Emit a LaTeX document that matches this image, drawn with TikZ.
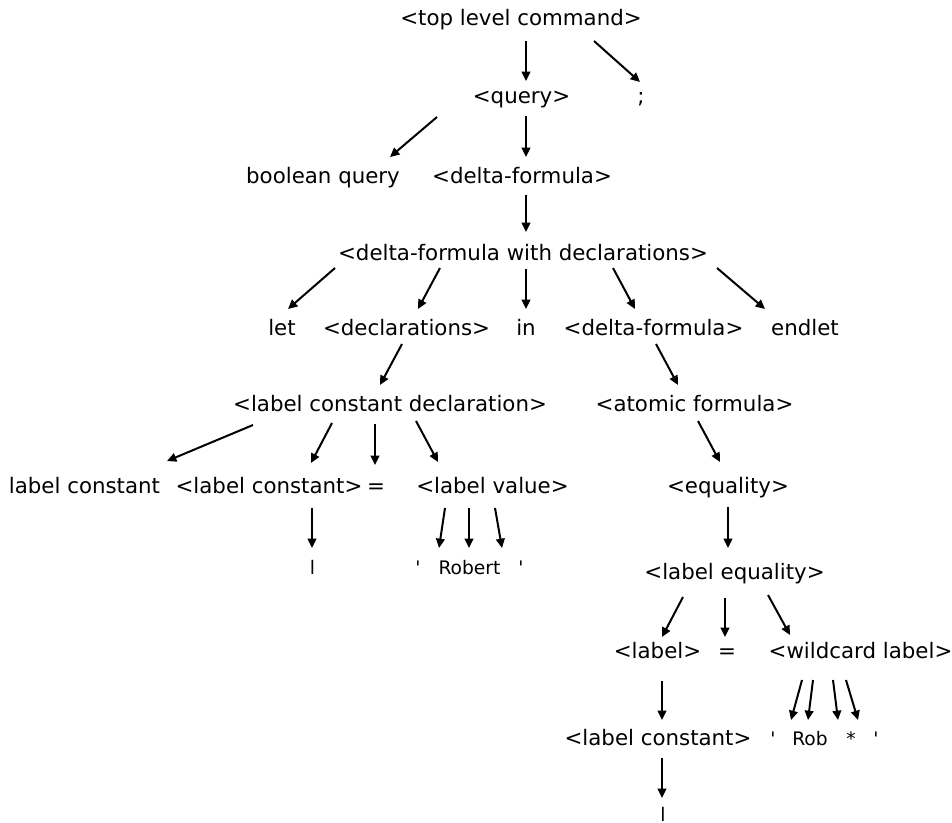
\documentclass[tikz,border=0pt]{standalone}
\usepackage{fontspec}
\setmainfont{DejaVu Sans}
\newfontfamily\termfont{DejaVu Sans}
\usetikzlibrary{calc,arrows.meta}
\tikzset{
  txt/.style={anchor=base, inner sep=0pt, font=\fontsize{16}{19}\selectfont},
  term/.style={anchor=base, inner sep=0pt, font=\termfont\fontsize{14}{17}\selectfont},
  arr/.style={-{Triangle[length=7pt,width=6.5pt]}, line width=1.5pt}
}
\begin{document}
\begin{tikzpicture}[x=0.75pt,y=-0.75pt]
\useasboundingbox (0,0) rectangle (952,823);
% nodes
\node[txt] (tlc) at (521,26) {<top level command>};
\node[txt] (query) at (521.5,104) {<query>};
\node[txt] (semi) at (641,104) {;};
\node[txt] (boolq) at (323,184) {boolean query};
\node[txt] (df1) at (522,184) {<delta-formula>};
\node[txt] (dfwd) at (523,261) {<delta-formula with declarations>};
\node[txt] (let) at (282,335) {let};
\node[txt] (decls) at (406.5,335) {<declarations>};
\node[txt] (in) at (526,335) {in};
\node[txt] (df2) at (653.5,335) {<delta-formula>};
\node[txt] (endlet) at (805,335) {endlet};
\node[txt] (lcd) at (390,411) {<label constant declaration>};
\node[txt] (atomic) at (694.5,411) {<atomic formula>};
\node[txt] (lconst) at (84.5,493) {label constant};
\node[txt] (lc1) at (269,493) {<label constant>};
\node[txt] (eq1) at (376,493) {=};
\node[txt] (lv) at (492.5,493) {<label value>};
\node[txt] (equality) at (728,493) {<equality>};
\node[term] (l1) at (312.5,574) {l};
\node[term] (q1) at (418,574) {'};
\node[term] (robert) at (469.5,574) {Robert};
\node[term] (q2) at (521,574) {'};
\node[txt] (leq) at (734.5,579) {<label equality>};
\node[txt] (label) at (657.5,658) {<label>};
\node[txt] (eq2) at (727,658) {=};
\node[txt] (wl) at (860.5,658) {<wildcard label>};
\node[txt] (lc2) at (658,745) {<label constant>};
\node[term] (q3) at (773,745) {'};
\node[term] (rob) at (810,745) {Rob};
\node[term] (star) at (851,745) {*};
\node[term] (q4) at (876,745) {'};
\node[term] (l2) at (663,821.5) {l};
% connectors
\draw[arr] ($(tlc.base)+(5,15)$) -- ($(query.base)+(4.5,-23)$);
\draw[arr] ($(tlc.base)+(73,15)$) -- ($(semi.base)+(-1,-22)$);
\draw[arr] ($(query.base)+(-84.5,13)$) -- ($(boolq.base)+(67,-27)$);
\draw[arr] ($(query.base)+(4.5,12)$) -- ($(df1.base)+(4,-27)$);
\draw[arr] ($(df1.base)+(4,11)$) -- ($(dfwd.base)+(3,-29)$);
\draw[arr] ($(dfwd.base)+(-188,7)$) -- ($(let.base)+(6,-26)$);
\draw[arr] ($(dfwd.base)+(-83,7)$) -- ($(decls.base)+(11.5,-26)$);
\draw[arr] ($(dfwd.base)+(3,8)$) -- ($(in.base)+(0,-26)$);
\draw[arr] ($(dfwd.base)+(90,7)$) -- ($(df2.base)+(-18.5,-26)$);
\draw[arr] ($(dfwd.base)+(194,7)$) -- ($(endlet.base)+(-40,-26)$);
\draw[arr] ($(decls.base)+(-4.5,9)$) -- ($(lcd.base)+(-10,-26)$);
\draw[arr] ($(df2.base)+(2.5,9)$) -- ($(atomic.base)+(-16.5,-26)$);
\draw[arr] ($(lcd.base)+(-137,14)$) -- ($(lconst.base)+(82.5,-32)$);
\draw[arr] ($(lcd.base)+(-58,12)$) -- ($(lc1.base)+(42,-30)$);
\draw[arr] ($(lcd.base)+(-15,13)$) -- ($(eq1.base)+(-1,-28)$);
\draw[arr] ($(lcd.base)+(26,10)$) -- ($(lv.base)+(-54.5,-31)$);
\draw[arr] ($(atomic.base)+(3.5,10)$) -- ($(equality.base)+(-8,-31)$);
\draw[arr] ($(lc1.base)+(43,15)$) -- ($(l1.base)+(-0.5,-26)$);
\draw[arr] ($(lv.base)+(-47.5,15)$) -- ($(q1.base)+(21,-26)$);
\draw[arr] ($(lv.base)+(-23.5,15)$) -- ($(robert.base)+(-0.5,-26)$);
\draw[arr] ($(lv.base)+(2.5,15)$) -- ($(q2.base)+(-19,-26)$);
\draw[arr] ($(equality.base)+(0,14)$) -- ($(leq.base)+(-6.5,-31)$);
\draw[arr] ($(leq.base)+(-51.5,18)$) -- ($(label.base)+(4.5,-21)$);
\draw[arr] ($(leq.base)+(-9.5,19)$) -- ($(eq2.base)+(-2,-21)$);
\draw[arr] ($(leq.base)+(33.5,16)$) -- ($(wl.base)+(-70.5,-23)$);
\draw[arr] ($(label.base)+(4.5,23)$) -- ($(lc2.base)+(4,-25)$);
\draw[arr] ($(wl.base)+(-58.5,22)$) -- ($(q3.base)+(18,-25)$);
\draw[arr] ($(wl.base)+(-47.5,22)$) -- ($(rob.base)+(-2,-25)$);
\draw[arr] ($(wl.base)+(-27.5,22)$) -- ($(star.base)+(-13,-25)$);
\draw[arr] ($(wl.base)+(-14.5,22)$) -- ($(q4.base)+(-18,-25)$);
\draw[arr] ($(lc2.base)+(4,13)$) -- ($(l2.base)+(-1,-23.5)$);
\end{tikzpicture}
\end{document}
